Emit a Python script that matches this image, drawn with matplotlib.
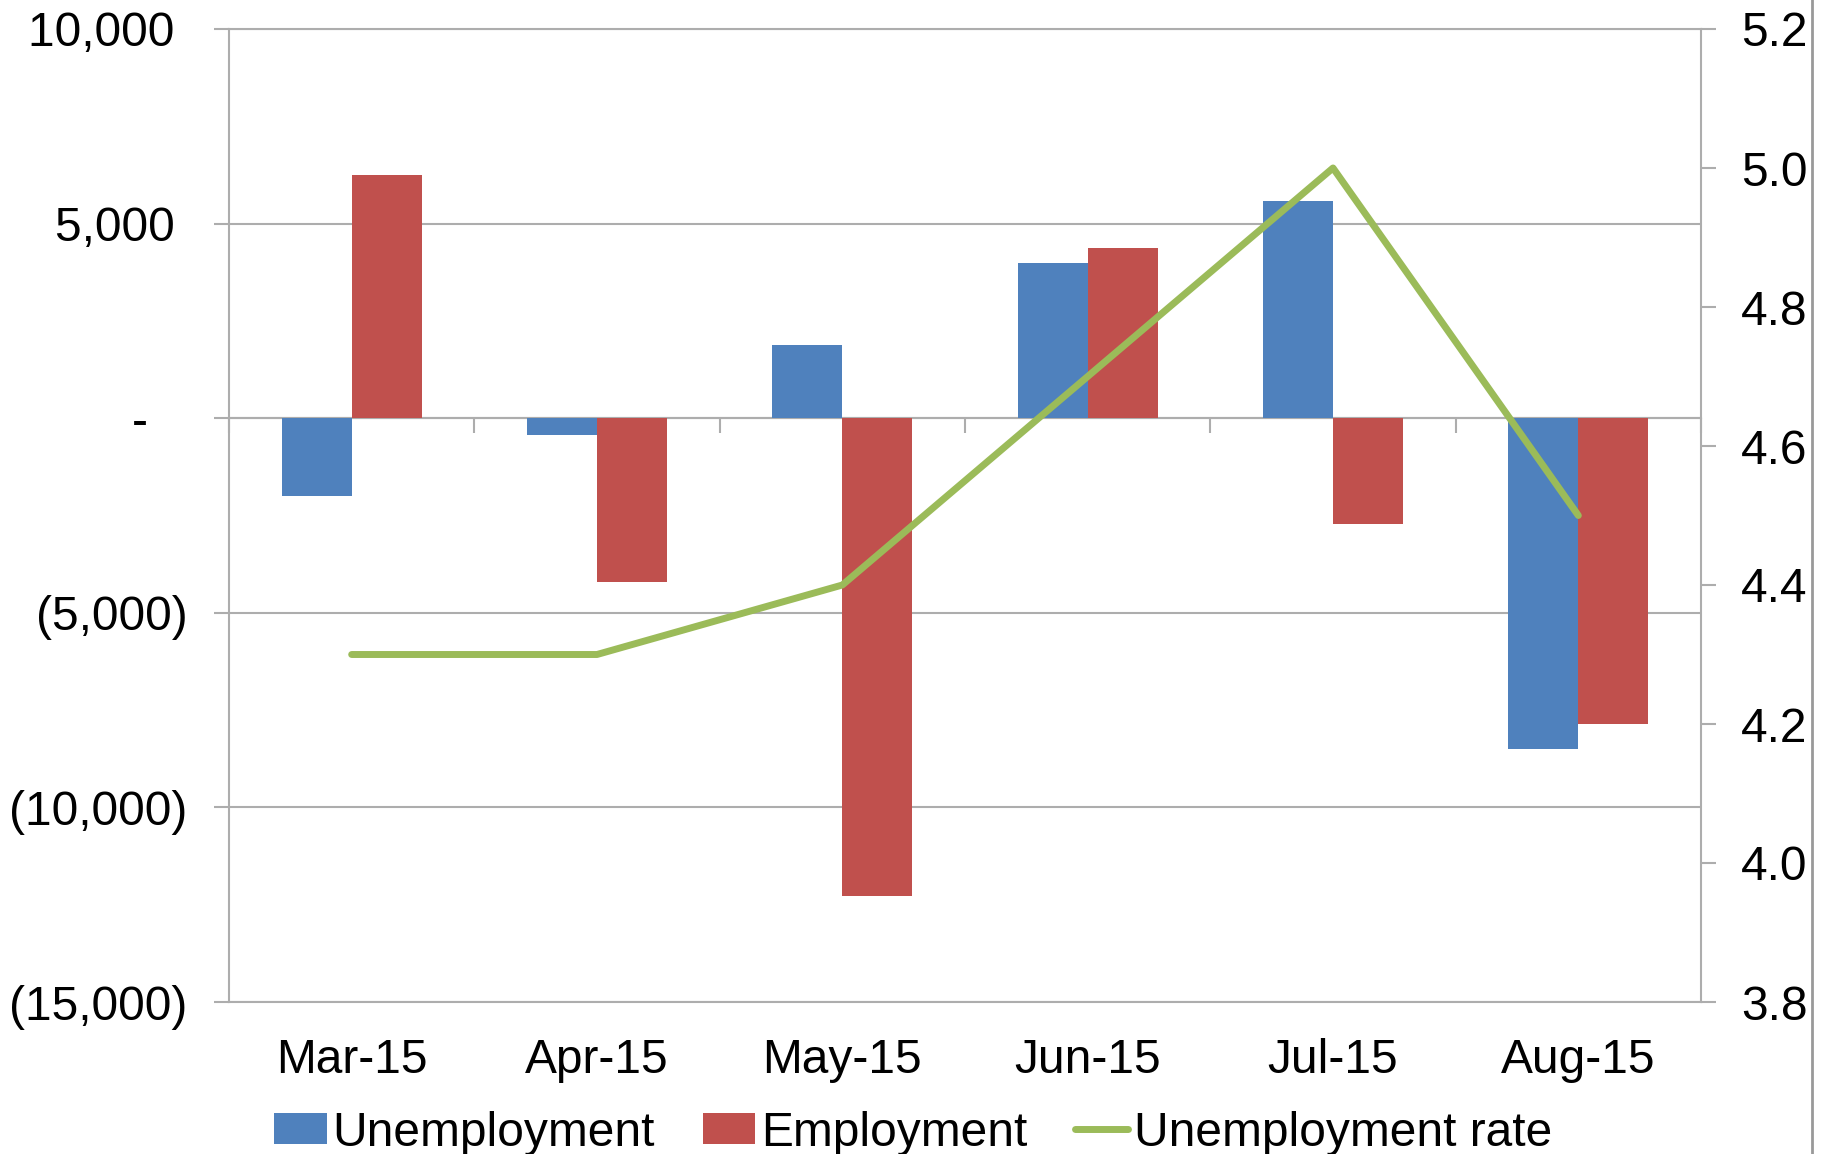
import numpy as np
import matplotlib
matplotlib.use("Agg")
import matplotlib.pyplot as plt
from matplotlib.ticker import FuncFormatter
from matplotlib.lines import Line2D

plt.rcParams["font.family"] = ["Liberation Sans", "DejaVu Sans"]

# Daten
months = ["Mar-15", "Apr-15", "May-15", "Jun-15", "Jul-15", "Aug-15"]
unemployment = [-2000, -420, 1880, 3980, 5570, -8490]
employment = [6260, -4220, -12280, 4370, -2720, -7860]
unemp_rate = [4.3, 4.3, 4.4, 4.7, 5.0, 4.5]

left_ticks = [-15000, -10000, -5000, 0, 5000, 10000]
right_ticks = [3.8, 4.0, 4.2, 4.4, 4.6, 4.8, 5.0, 5.2]

BLUE = "#4F81BD"
RED = "#C0504D"
GREEN = "#9BBB59"
GREY = "#ADADAD"
FS = 34.5


def acc_fmt(v, pos):
    # Excel-Buchhaltungsformat (Leerzeichen statt Klammer rechts)
    if v == 0:
        return "-   "
    if v < 0:
        return f"({abs(v):,.0f})"
    return f"{v:,.0f} "


fig = plt.figure(figsize=(18.26, 11.54), dpi=100)
ax = fig.add_axes([229 / 1826, 1 - 1002 / 1154, (1701 - 229) / 1826, (1002 - 29) / 1154])

x = np.arange(len(months))
w = 1 / 3.5
ax.bar(x - w / 2, unemployment, w, color=BLUE, zorder=2, label="Unemployment")
ax.bar(x + w / 2, employment, w, color=RED, zorder=2, label="Employment")

ax.set_xlim(-0.5, len(months) - 0.5)
ax.set_ylim(left_ticks[0], left_ticks[-1])
ax.set_yticks(left_ticks)
ax.yaxis.set_major_formatter(FuncFormatter(acc_fmt))
ax.grid(axis="y", color=GREY, linewidth=1.5, zorder=0)
ax.set_axisbelow(True)
ax.tick_params(axis="y", length=10.8, width=1.5, color=GREY, pad=19, labelsize=FS)
ax.set_xticks(x)
ax.set_xticklabels(months)
ax.tick_params(axis="x", length=0, pad=26, labelsize=FS)
for s in ["left", "top", "bottom"]:
    ax.spines[s].set_color(GREY)
    ax.spines[s].set_linewidth(1.5)
ax.spines["right"].set_visible(False)

# Kategorie-Ticks an der Nulllinie
zero_pos = (0 - left_ticks[0]) / (left_ticks[-1] - left_ticks[0])
sec = ax.secondary_xaxis(zero_pos)
sec.set_xticks(np.arange(len(months) + 1) - 0.5)
sec.set_xticklabels([])
sec.tick_params(direction="in", length=10.8, width=1.5, color=GREY)
for s in sec.spines.values():
    s.set_color(GREY)
    s.set_linewidth(1.5)

ax2 = ax.twinx()
ax2.plot(x, unemp_rate, color=GREEN, linewidth=5, solid_capstyle="round",
         label="Unemployment rate", zorder=3)
ax2.set_ylim(right_ticks[0], right_ticks[-1])
ax2.set_yticks(right_ticks)
ax2.yaxis.set_major_formatter(FuncFormatter(lambda v, p: f"{v:.1f}"))
ax2.tick_params(axis="y", length=10.8, width=1.5, color=GREY, pad=18, labelsize=FS)
for s in ["left", "top", "bottom"]:
    ax2.spines[s].set_visible(False)
ax2.spines["right"].set_color(GREY)
ax2.spines["right"].set_linewidth(1.5)

h1, l1 = ax.get_legend_handles_labels()
h2, l2 = ax2.get_legend_handles_labels()
fig.legend(h1 + h2, l1 + l2, loc="center", bbox_to_anchor=(0.5, 1 - 1133 / 1154),
           ncol=3, frameon=False, fontsize=FS, handlelength=1.1, handleheight=0.6,
           handletextpad=0.12, columnspacing=1.0, borderpad=0)

# Rahmenlinie rechts
fig.add_artist(Line2D([1812 / 1826, 1812 / 1826], [0, 1], color="#999999", linewidth=2))

fig.savefig("out.png", dpi=100)
